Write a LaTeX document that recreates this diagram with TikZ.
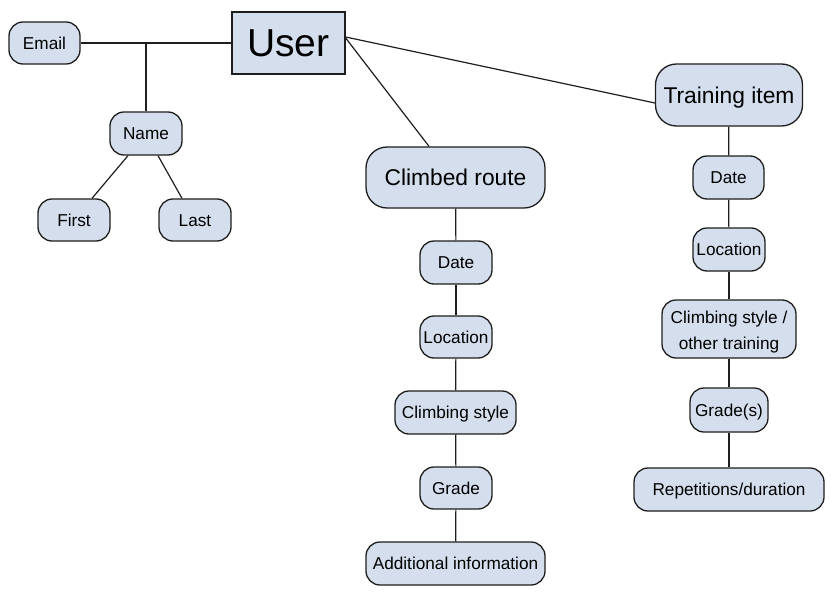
\documentclass[tikz,border=0pt]{standalone}
\usepackage{fontspec}
\setmainfont{Liberation Sans}
\definecolor{boxfill}{RGB}{212,222,237}
\definecolor{boxline}{RGB}{30,30,30}
\begin{document}
\begin{tikzpicture}[x=1pt,y=-1pt,
  attr/.style={draw=boxline,line width=1.3pt,fill=boxfill,rounded corners=14pt,inner sep=0pt,
    font=\fontsize{17.2}{26}\selectfont,align=center,text height=12.3pt,text depth=0pt},
  big/.style={draw=boxline,line width=1.3pt,fill=boxfill,rounded corners=21pt,inner sep=0pt,
    font=\fontsize{22.8}{27}\selectfont,text height=16.3pt,text depth=0pt},
  conn/.style={line width=1.2pt,draw=boxline}]
\useasboundingbox (0,0) rectangle (834,599);
\fill[white] (0,0) rectangle (834,599);
% nodes
\node[draw=boxline,line width=1.3pt,fill=boxfill,minimum width=113pt,minimum height=62pt,inner sep=0pt,font=\fontsize{39}{44}\selectfont,text height=28pt,text depth=0pt] (user) at (288.5,43) {User};
\node[attr,minimum width=71pt,minimum height=42pt] (email) at (44.5,43) {Email};
\node[attr,minimum width=72pt,minimum height=43pt] (name) at (146,133.5) {Name};
\node[attr,minimum width=72pt,minimum height=42pt] (first) at (74,220) {First};
\node[attr,minimum width=72pt,minimum height=42pt] (last) at (195,220) {Last};
\node[big,minimum width=179pt,minimum height=61pt] (route) at (455.5,177.5) {Climbed route};
\node[big,minimum width=147pt,minimum height=62pt] (train) at (729,95) {Training item};
\node[attr,minimum width=72pt,minimum height=43pt] (rdate) at (456,262.5) {Date};
\node[attr,minimum width=72pt,minimum height=42pt] (rloc) at (456,337) {Location};
\node[attr,minimum width=121pt,minimum height=43pt] (rstyle) at (455.5,412.5) {Climbing style};
\node[attr,minimum width=72pt,minimum height=42pt] (rgrade) at (456,488) {Grade};
\node[attr,minimum width=179pt,minimum height=43pt] (rinfo) at (455.5,563.5) {Additional information};
\node[attr,minimum width=71pt,minimum height=43pt] (tdate) at (728.5,177.5) {Date};
\node[attr,minimum width=72pt,minimum height=43pt] (tloc) at (729,249.5) {Location};
\node[attr,minimum width=134pt,minimum height=58pt,text height=40.4pt,text depth=0pt] (tstyle) at (729,329) {Climbing style /\\other training};
\node[attr,minimum width=78pt,minimum height=44pt] (tgrade) at (729,410) {Grade(s)};
\node[attr,minimum width=190pt,minimum height=43pt] (treps) at (729,489.5) {Repetitions/duration};
% connectors
\coordinate (jn) at (146,43);
\draw[conn] (email.east) -- (user.west);
\draw[conn] (name.north) -- (jn);
\draw[conn] ([xshift=-18pt]name.south) -- ([xshift=18pt]first.north);
\draw[conn] ([xshift=12pt]name.south) -- ([xshift=-13pt]last.north);
\draw[conn] ([yshift=5pt]user.east) -- ([xshift=-26.5pt]route.north);
\draw[conn] ([yshift=6pt]user.east) -- ([yshift=-8pt]train.west);
\draw[conn] (route) -- (rdate);
\draw[conn] (rdate) -- (rloc);
\draw[conn] (rloc) -- (rstyle);
\draw[conn] (rstyle) -- (rgrade);
\draw[conn] (rgrade) -- (rinfo);
\draw[conn] (train) -- (tdate);
\draw[conn] (tdate) -- (tloc);
\draw[conn] (tloc) -- (tstyle);
\draw[conn] (tstyle) -- (tgrade);
\draw[conn] (tgrade) -- (treps);
\end{tikzpicture}
\end{document}
